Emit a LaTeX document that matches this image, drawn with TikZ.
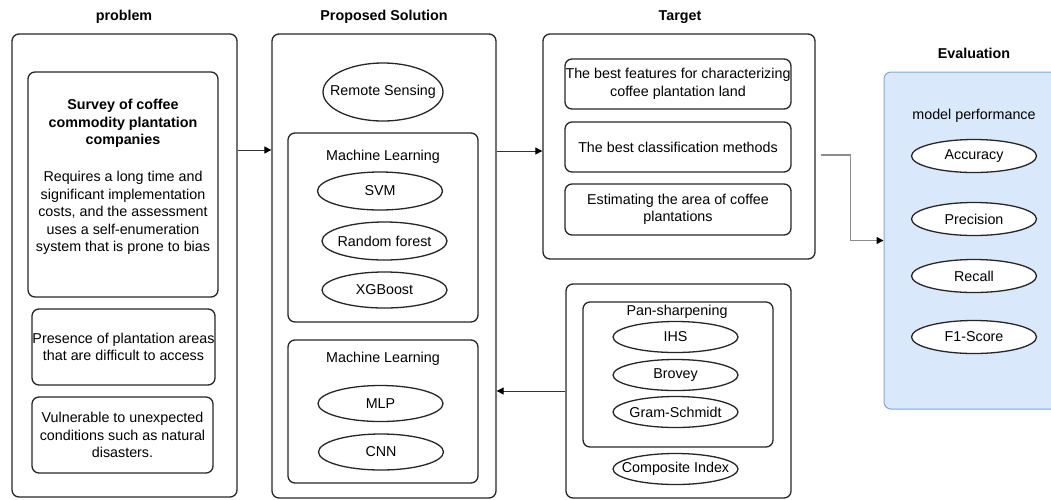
\documentclass[tikz,border=0pt]{standalone}
\usepackage{fontspec}
\setmainfont{Liberation Sans}
\usetikzlibrary{shapes.geometric,arrows.meta}
\definecolor{evalfill}{HTML}{DAE8FC}
\definecolor{evaldraw}{HTML}{7EA6E0}
\definecolor{linegray}{HTML}{8C8C8C}

\begin{document}
\begin{tikzpicture}[x=1pt,y=-1pt,every node/.style={font=\fontsize{14.3}{17.5}\selectfont}]
    \tikzset{panel/.style = {draw=black!85, line width=1.3pt, rounded corners=7pt, inner sep=0pt}}
    \tikzset{oval/.style = {shape=ellipse, draw=black!85, fill=white, line width=1.3pt, inner sep=-30pt, minimum width=125pt, minimum height=36pt}}
    \tikzset{edge/.style = {draw=black!80, line width=0.9pt, -{Triangle[length=7pt,width=7pt,color=black]}}}
    \tikzset{txt/.style = {align=center, inner sep=0pt}}
    \tikzset{head/.style = {font=\fontsize{14.3}{17.5}\selectfont\bfseries}}

    \useasboundingbox (0,0) rectangle (1051,499);
    \clip (0,0) rectangle (1051,499);

    % column titles
    \node[head] (tprob) at (124,17) {problem};
    \node[head] (tsol) at (384,17) {Proposed Solution};
    \node[head] (ttgt) at (680,17) {Target};
    \node[head] (teval) at (974,53) {Evaluation};

    % problem
    \node[panel, minimum width=225pt, minimum height=463pt] (prob) at (124.5,265.5) {};
    \node[panel, minimum width=190pt, minimum height=225pt] (survey) at (123,184.5) {};
    \node[txt] (surveytxt) at (123,177) {\textbf{Survey of coffee}\\\textbf{commodity plantation}\\\textbf{companies}\\[19.5pt]Requires a long time and\\significant implementation\\costs, and the assessment\\uses a self-enumeration\\system that is prone to bias};
    \node[panel, txt, minimum width=183pt, minimum height=76pt] (access) at (123.5,347) {Presence of plantation areas\\that are difficult to access};
    \node[panel, txt, minimum width=181pt, minimum height=76pt] (disaster) at (122.5,435) {Vulnerable to unexpected\\conditions such as natural\\disasters.};

    % proposed solution
    \node[panel, minimum width=224pt, minimum height=464pt] (sol) at (384,266) {};
    \node[oval, minimum width=120pt, minimum height=58pt] (rs) at (383,92) {Remote Sensing};
    \node[panel, minimum width=190pt, minimum height=189pt] (ml) at (383,227.5) {};
    \node[txt] (mltitle) at (383,157) {Machine Learning};
    \node[oval, minimum height=38pt] (svm) at (380,191) {SVM};
    \node[oval, minimum height=38pt] (rf) at (384.5,241) {Random forest};
    \node[oval] (xgb) at (384.5,290) {XGBoost};
    \node[panel, minimum width=190pt, minimum height=143pt] (dl) at (383,411.5) {};
    \node[txt] (dltitle) at (383,359) {Machine Learning};
    \node[oval] (mlp) at (380.5,403.5) {MLP};
    \node[oval] (cnn) at (381,452) {CNN};

    % target
    \node[panel, minimum width=272pt, minimum height=225pt] (tgt) at (679,146.5) {};
    \node[panel, txt, minimum width=226pt, minimum height=50pt] (feat) at (678,84) {The best features for characterizing\\coffee plantation land};
    \node[panel, txt, minimum width=226pt, minimum height=50pt] (cls) at (678,147) {The best classification methods};
    \node[panel, txt, minimum width=226pt, minimum height=51pt] (area) at (678,209.5) {Estimating the area of coffee\\plantations};

    % pan-sharpening
    \node[panel, minimum width=225pt, minimum height=214pt] (pan) at (678.5,391) {};
    \node[panel, minimum width=190pt, minimum height=145pt] (ps) at (678,374.5) {};
    \node[txt] (pstitle) at (677,312) {Pan-sharpening};
    \node[oval, minimum height=31pt] (ihs) at (675.5,337) {IHS};
    \node[oval, minimum height=31pt] (brovey) at (675.5,375) {Brovey};
    \node[oval, minimum height=31pt] (gs) at (675.5,412) {Gram-Schmidt};
    \node[oval, minimum height=31pt] (ci) at (675.5,469) {Composite Index};

    % evaluation
    \node[panel, draw=evaldraw, fill=evalfill, line width=1pt, minimum width=180pt, minimum height=337pt] (eval) at (974,240.5) {};
    \node[txt] (mp) at (974,116) {model performance};
    \node[oval, minimum height=33pt] (acc) at (974,156) {Accuracy};
    \node[oval, minimum height=33pt] (prec) at (974,219) {Precision};
    \node[oval, minimum height=33pt] (rec) at (974,276) {Recall};
    \node[oval, minimum height=33pt] (f1) at (974,337) {F1-Score};

    % connectors
    \draw[edge] (prob.east |- 0,150) -- (sol.west |- 0,150);
    \draw[edge] (sol.east |- 0,151) -- (tgt.west |- 0,151);
    \draw[edge] (pan.west) -- (pan.west -| sol.east);
    \draw[edge, draw=linegray, line width=1.3pt] ([xshift=5pt]tgt.east |- 0,155) -| ([xshift=-33pt]eval.west) -- (eval.west);
\end{tikzpicture}
\end{document}
